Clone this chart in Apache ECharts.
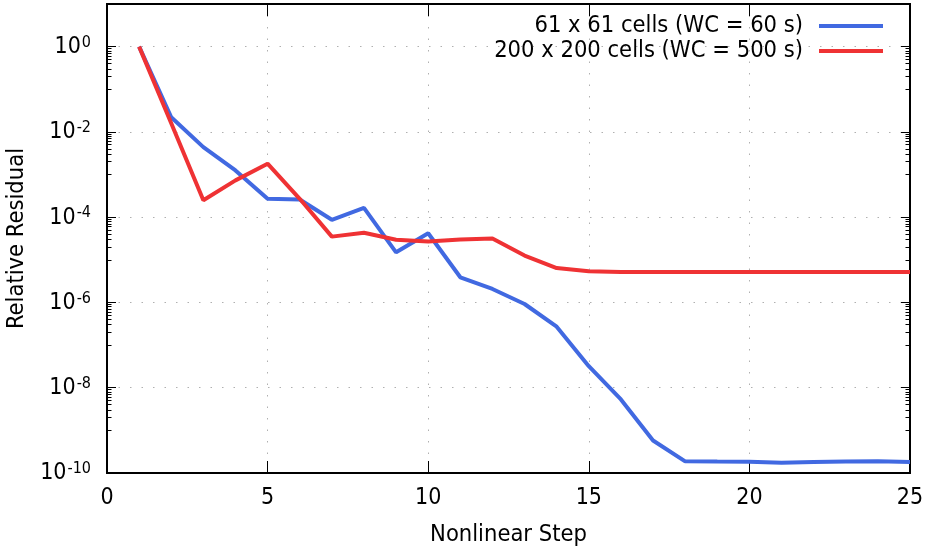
<!DOCTYPE html>
<html>
<head>
<meta charset="utf-8">
<script src="https://cdn.jsdelivr.net/npm/echarts@6/dist/echarts.min.js"></script>
<style>
html,body{margin:0;padding:0;background:#fff;}
#chart{width:928px;height:547px;}
</style>
</head>
<body>
<div id="chart"></div>
<script>
const steps = [1,2,3,4,5,6,7,8,9,10,11,12,13,14,15,16,17,18,19,20,21,22,23,24,25];
const coarseName = '61 x 61 cells (WC = 60 s)';
const fineName = '200 x 200 cells (WC = 500 s)';
const coarseResidual = [1, 2.2e-2, 4.4e-3, 1.25e-3, 2.7e-4, 2.6e-4, 8.7e-5, 1.66e-4, 1.5e-5, 4.2e-5,
  3.9e-6, 2.07e-6, 9.2e-7, 2.7e-7, 3.2e-8, 5.3e-9, 5.8e-10, 1.88e-10, 1.85e-10, 1.83e-10,
  1.75e-10, 1.8e-10, 1.85e-10, 1.88e-10, 1.8e-10];
const fineResidual = [1, 1.6e-2, 2.5e-4, 7.3e-4, 1.8e-3, 2.7e-4, 3.5e-5, 4.3e-5, 2.95e-5, 2.7e-5,
  3.0e-5, 3.15e-5, 1.26e-5, 6.4e-6, 5.4e-6, 5.2e-6, 5.2e-6, 5.2e-6, 5.2e-6, 5.2e-6,
  5.2e-6, 5.2e-6, 5.2e-6, 5.2e-6, 5.2e-6];
const xTicks = [0, 5, 10, 15, 20, 25];
const yMajorTicks = [1e-10, 1e-8, 1e-6, 1e-4, 1e-2, 1];

const FONT = "'DejaVu Sans Condensed', 'DejaVu Sans', sans-serif";
const minorValues = [];
yMajorTicks.forEach(function (t) {
  for (let k = 1; k <= 9; k++) {
    const v = k * t / 10;
    if (v > 1e-10) minorValues.push(v);
  }
});

const chart = echarts.init(document.getElementById('chart'), null, {renderer: 'canvas'});
const gridLine = {show: true, lineStyle: {color: '#b0b0b0', width: 1, type: [1.5, 10]}};
const frameLine = {show: true, lineStyle: {color: '#000', width: 2}};

function yAxisBase(pos) {
  return {
    type: 'log', logBase: 10, min: 1e-10, max: 10, position: pos, offset: 0,
    axisLine: frameLine
  };
}

const legendText = {fontFamily: FONT, fontSize: 23.5, color: '#000', lineHeight: 24, padding: [0, 11, 0, 0]};

const option = {
  animation: false,
  backgroundColor: '#fff',
  grid: {left: 107, right: 18, top: 4, bottom: 74, containLabel: false, outerBoundsMode: 'none'},
  legend: [
    {data: [coarseName], right: 45, top: 14, padding: 0, align: 'right', icon: 'rect',
     itemWidth: 64, itemHeight: 4, textStyle: legendText},
    {data: [fineName], right: 45, top: 39, padding: 0, align: 'right', icon: 'rect',
     itemWidth: 64, itemHeight: 4, textStyle: legendText}
  ],
  xAxis: [
    {type: 'value', min: 0, max: 25, interval: 5, position: 'bottom',
     name: 'Nonlinear Step', nameLocation: 'middle', nameGap: 50,
     nameTextStyle: {fontFamily: FONT, fontSize: 23.5, color: '#000'},
     axisLine: frameLine,
     axisTick: {show: true, inside: true, length: 12, lineStyle: {color: '#000', width: 1}},
     axisLabel: {show: true, margin: 14, fontFamily: FONT, fontSize: 23, color: '#000',
       customValues: xTicks},
     splitLine: gridLine},
    {type: 'value', min: 0, max: 25, interval: 5, position: 'top',
     axisLine: frameLine,
     axisTick: {show: true, inside: true, length: 12, lineStyle: {color: '#000', width: 1}},
     axisLabel: {show: false}, splitLine: {show: false}}
  ],
  yAxis: [
    Object.assign(yAxisBase('left'), {
      interval: 2,
      name: 'Relative Residual', nameLocation: 'middle', nameGap: 78,
      nameTextStyle: {fontFamily: FONT, fontSize: 23.5, color: '#000'},
      axisTick: {show: true, inside: true, length: 9, customValues: yMajorTicks,
        lineStyle: {color: '#000', width: 1}},
      axisLabel: {show: true, margin: 16, customValues: yMajorTicks,
        fontFamily: FONT, fontSize: 23, color: '#000',
        formatter: function (v) {
          const e = Math.round(Math.log10(v));
          return '{b|10}{s|' + e + '}';
        },
        rich: {
          b: {fontFamily: FONT, fontSize: 23, color: '#000', verticalAlign: 'bottom', lineHeight: 24},
          s: {fontFamily: FONT, fontSize: 16, color: '#000', verticalAlign: 'top', lineHeight: 24, padding: [0, 0, 0, 1]}
        }},
      splitLine: gridLine
    }),
    Object.assign(yAxisBase('left'), {
      axisTick: {show: true, inside: true, length: 4.5, customValues: minorValues,
        lineStyle: {color: '#000', width: 1}},
      axisLabel: {show: false}, splitLine: {show: false}
    }),
    Object.assign(yAxisBase('right'), {
      axisTick: {show: true, inside: true, length: 9, customValues: yMajorTicks,
        lineStyle: {color: '#000', width: 1}},
      axisLabel: {show: false}, splitLine: {show: false}
    }),
    Object.assign(yAxisBase('right'), {
      axisTick: {show: true, inside: true, length: 4.5, customValues: minorValues,
        lineStyle: {color: '#000', width: 1}},
      axisLabel: {show: false}, splitLine: {show: false}
    })
  ],
  series: [
    {name: coarseName, type: 'line', xAxisIndex: 0, yAxisIndex: 0, showSymbol: false, symbol: 'none',
     color: '#4169e1', lineStyle: {color: '#4169e1', width: 4},
     data: steps.map(function (s, i) { return [s, coarseResidual[i]]; }), z: 2},
    {name: fineName, type: 'line', xAxisIndex: 0, yAxisIndex: 0, showSymbol: false, symbol: 'none',
     color: '#ef3234', lineStyle: {color: '#ef3234', width: 4},
     data: steps.map(function (s, i) { return [s, fineResidual[i]]; }), z: 3}
  ]
};
chart.setOption(option);
</script>
</body>
</html>
